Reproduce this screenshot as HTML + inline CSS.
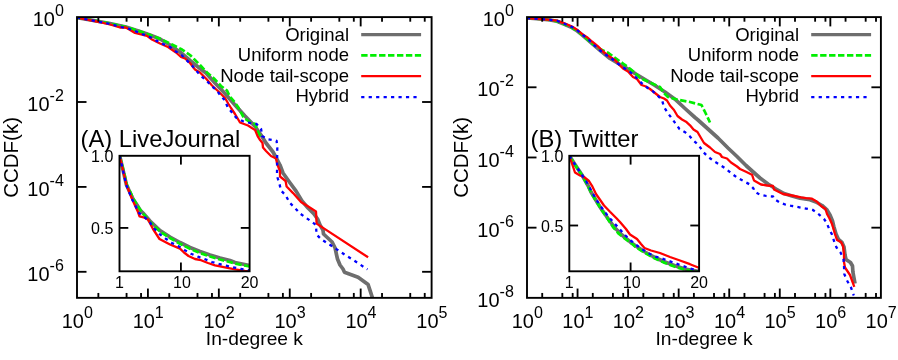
<!DOCTYPE html>
<html><head><meta charset="utf-8"><title>CCDF</title>
<style>
html,body{margin:0;padding:0;background:#fff;}
svg{display:block;font-family:"Liberation Sans", sans-serif;fill:#000;will-change:transform;}
</style></head><body>
<svg width="898" height="360" viewBox="0 0 898 360">
<rect width="898" height="360" fill="#fff"/>
<clipPath id="c0"><rect x="77.0" y="17.1" width="354.6" height="280.75"/></clipPath>
<g clip-path="url(#c0)">
<polyline points="77.0,17.6 99.2,21.5 110.0,23.5 126.0,27.0 140.0,31.5 150.0,35.0 160.0,39.0 170.0,45.0 180.0,52.0 190.0,60.5 200.0,68.5 206.0,73.0 215.0,83.0 225.0,93.5 235.0,105.0 245.0,116.0 255.1,126.5 261.0,135.0 266.0,143.0 273.0,152.0 276.6,158.5 280.0,165.0 283.0,173.0 290.1,183.0 296.1,191.1 302.0,201.0 308.0,208.0 314.0,214.0 317.6,219.0 320.0,225.0 323.0,230.0 323.5,234.0 332.1,242.0 335.1,248.0 336.6,255.1 337.5,259.0 340.0,265.0 343.0,269.0 344.5,272.2 358.1,277.2 368.1,284.6 370.1,290.6 372.5,298.0 373.0,301.0" fill="none" stroke="#6e6e6e" stroke-width="3.7" stroke-linejoin="round"/>
<polyline points="77.0,17.6 99.2,21.5 110.0,23.5 126.0,27.0 140.0,31.4 150.0,34.9 160.0,38.8 172.0,44.5 182.0,49.5 190.0,55.0 195.0,60.0 200.0,65.0 207.0,72.5 214.0,78.5 221.0,86.0 227.0,90.5 229.5,96.0 234.5,102.0 238.0,107.0 244.0,118.0 249.0,121.5 255.1,124.0 258.1,132.1 260.1,136.1 261.5,137.5" fill="none" stroke="#00ee00" stroke-width="2.7" stroke-linejoin="round" stroke-dasharray="6.4,2.54"/>
<polyline points="77.0,17.6 99.2,22.0 110.0,24.5 120.0,27.5 126.0,27.5 135.0,33.0 147.0,35.8 152.0,39.5 160.0,43.5 168.0,47.0 176.0,52.5 181.0,57.0 185.0,58.5 190.0,63.0 195.0,69.5 200.0,72.5 206.0,78.5 212.0,85.5 219.0,92.0 225.0,98.0 228.5,104.0 231.0,108.0 235.0,114.0 240.0,122.5 248.0,125.5 255.1,130.1 257.6,136.1 260.1,140.1 262.5,143.0 263.0,147.5 266.0,151.0 271.0,156.0 276.1,158.5 277.1,164.1 280.0,171.0 280.0,176.5 285.6,181.0 286.6,186.5 293.1,193.1 301.0,202.0 309.0,207.0 316.0,211.5 316.6,223.6 368.1,257.3" fill="none" stroke="#ff0000" stroke-width="2.3" stroke-linejoin="round"/>
<polyline points="77.0,17.6 99.2,21.8 110.0,24.0 121.0,27.0 128.0,28.5 136.0,31.5 142.0,34.0 150.0,37.0 156.0,40.5 163.0,44.0 170.0,47.0 175.0,51.0 181.5,55.0 186.5,60.0 192.0,65.5 196.5,71.0 201.0,76.0 206.5,80.5 211.0,85.5 216.5,90.0 220.5,95.5 225.0,100.5 227.5,107.0 236.0,117.5 242.5,121.0 250.1,123.0 256.6,124.0 261.1,129.0 262.1,136.1 268.0,139.2 276.6,140.8 277.3,148.0 277.1,160.1 277.0,176.0 279.5,184.0 281.0,190.6 285.5,195.0 289.5,202.5 295.0,208.0 300.0,213.5 305.6,217.5 312.0,221.9 316.0,225.0 316.5,234.5 321.0,239.0 327.1,243.0 334.1,247.5 340.1,251.6 346.1,255.6 352.6,259.6 367.5,269.4" fill="none" stroke="#0000ff" stroke-width="2.3" stroke-linejoin="round" stroke-dasharray="3.2,4.26"/>
</g>
<rect x="77.0" y="17.1" width="354.6" height="280.75" fill="none" stroke="#000" stroke-width="1.9"/>
<line x1="98.35" y1="297.85" x2="98.35" y2="292.95" stroke="#000" stroke-width="1.85"/>
<line x1="98.35" y1="17.10" x2="98.35" y2="21.70" stroke="#000" stroke-width="1.85"/>
<line x1="126.57" y1="297.85" x2="126.57" y2="292.95" stroke="#000" stroke-width="1.85"/>
<line x1="126.57" y1="17.10" x2="126.57" y2="21.70" stroke="#000" stroke-width="1.85"/>
<line x1="141.05" y1="297.85" x2="141.05" y2="292.95" stroke="#000" stroke-width="1.85"/>
<line x1="141.05" y1="17.10" x2="141.05" y2="21.70" stroke="#000" stroke-width="1.85"/>
<text transform="translate(77.30,327.50) scale(0.975,1)" text-anchor="middle" font-size="20.5">10<tspan dy="-10" font-size="16.5">0</tspan></text>
<line x1="147.92" y1="297.85" x2="147.92" y2="288.55" stroke="#000" stroke-width="1.85"/>
<line x1="147.92" y1="17.10" x2="147.92" y2="26.40" stroke="#000" stroke-width="1.85"/>
<line x1="169.27" y1="297.85" x2="169.27" y2="292.95" stroke="#000" stroke-width="1.85"/>
<line x1="169.27" y1="17.10" x2="169.27" y2="21.70" stroke="#000" stroke-width="1.85"/>
<line x1="197.49" y1="297.85" x2="197.49" y2="292.95" stroke="#000" stroke-width="1.85"/>
<line x1="197.49" y1="17.10" x2="197.49" y2="21.70" stroke="#000" stroke-width="1.85"/>
<line x1="211.97" y1="297.85" x2="211.97" y2="292.95" stroke="#000" stroke-width="1.85"/>
<line x1="211.97" y1="17.10" x2="211.97" y2="21.70" stroke="#000" stroke-width="1.85"/>
<text transform="translate(148.22,327.50) scale(0.975,1)" text-anchor="middle" font-size="20.5">10<tspan dy="-10" font-size="16.5">1</tspan></text>
<line x1="218.84" y1="297.85" x2="218.84" y2="288.55" stroke="#000" stroke-width="1.85"/>
<line x1="218.84" y1="17.10" x2="218.84" y2="26.40" stroke="#000" stroke-width="1.85"/>
<line x1="240.19" y1="297.85" x2="240.19" y2="292.95" stroke="#000" stroke-width="1.85"/>
<line x1="240.19" y1="17.10" x2="240.19" y2="21.70" stroke="#000" stroke-width="1.85"/>
<line x1="268.41" y1="297.85" x2="268.41" y2="292.95" stroke="#000" stroke-width="1.85"/>
<line x1="268.41" y1="17.10" x2="268.41" y2="21.70" stroke="#000" stroke-width="1.85"/>
<line x1="282.89" y1="297.85" x2="282.89" y2="292.95" stroke="#000" stroke-width="1.85"/>
<line x1="282.89" y1="17.10" x2="282.89" y2="21.70" stroke="#000" stroke-width="1.85"/>
<text transform="translate(219.14,327.50) scale(0.975,1)" text-anchor="middle" font-size="20.5">10<tspan dy="-10" font-size="16.5">2</tspan></text>
<line x1="289.76" y1="297.85" x2="289.76" y2="288.55" stroke="#000" stroke-width="1.85"/>
<line x1="289.76" y1="17.10" x2="289.76" y2="26.40" stroke="#000" stroke-width="1.85"/>
<line x1="311.11" y1="297.85" x2="311.11" y2="292.95" stroke="#000" stroke-width="1.85"/>
<line x1="311.11" y1="17.10" x2="311.11" y2="21.70" stroke="#000" stroke-width="1.85"/>
<line x1="339.33" y1="297.85" x2="339.33" y2="292.95" stroke="#000" stroke-width="1.85"/>
<line x1="339.33" y1="17.10" x2="339.33" y2="21.70" stroke="#000" stroke-width="1.85"/>
<line x1="353.81" y1="297.85" x2="353.81" y2="292.95" stroke="#000" stroke-width="1.85"/>
<line x1="353.81" y1="17.10" x2="353.81" y2="21.70" stroke="#000" stroke-width="1.85"/>
<text transform="translate(290.06,327.50) scale(0.975,1)" text-anchor="middle" font-size="20.5">10<tspan dy="-10" font-size="16.5">3</tspan></text>
<line x1="360.68" y1="297.85" x2="360.68" y2="288.55" stroke="#000" stroke-width="1.85"/>
<line x1="360.68" y1="17.10" x2="360.68" y2="26.40" stroke="#000" stroke-width="1.85"/>
<line x1="382.03" y1="297.85" x2="382.03" y2="292.95" stroke="#000" stroke-width="1.85"/>
<line x1="382.03" y1="17.10" x2="382.03" y2="21.70" stroke="#000" stroke-width="1.85"/>
<line x1="410.25" y1="297.85" x2="410.25" y2="292.95" stroke="#000" stroke-width="1.85"/>
<line x1="410.25" y1="17.10" x2="410.25" y2="21.70" stroke="#000" stroke-width="1.85"/>
<line x1="424.73" y1="297.85" x2="424.73" y2="292.95" stroke="#000" stroke-width="1.85"/>
<line x1="424.73" y1="17.10" x2="424.73" y2="21.70" stroke="#000" stroke-width="1.85"/>
<text transform="translate(360.98,327.50) scale(0.975,1)" text-anchor="middle" font-size="20.5">10<tspan dy="-10" font-size="16.5">4</tspan></text>
<text transform="translate(431.90,327.50) scale(0.975,1)" text-anchor="middle" font-size="20.5">10<tspan dy="-10" font-size="16.5">5</tspan></text>
<text transform="translate(63.90,26.30) scale(0.975,1)" text-anchor="end" font-size="20.5">10<tspan dy="-10" font-size="16.5">0</tspan></text>
<line x1="77.00" y1="102.00" x2="86.50" y2="102.00" stroke="#000" stroke-width="1.85"/>
<line x1="431.60" y1="102.00" x2="422.10" y2="102.00" stroke="#000" stroke-width="1.85"/>
<text transform="translate(63.90,111.20) scale(0.975,1)" text-anchor="end" font-size="20.5">10<tspan dy="-10" font-size="16.5">-2</tspan></text>
<line x1="77.00" y1="186.90" x2="86.50" y2="186.90" stroke="#000" stroke-width="1.85"/>
<line x1="431.60" y1="186.90" x2="422.10" y2="186.90" stroke="#000" stroke-width="1.85"/>
<text transform="translate(63.90,196.10) scale(0.975,1)" text-anchor="end" font-size="20.5">10<tspan dy="-10" font-size="16.5">-4</tspan></text>
<line x1="77.00" y1="271.80" x2="86.50" y2="271.80" stroke="#000" stroke-width="1.85"/>
<line x1="431.60" y1="271.80" x2="422.10" y2="271.80" stroke="#000" stroke-width="1.85"/>
<text transform="translate(63.90,281.00) scale(0.975,1)" text-anchor="end" font-size="20.5">10<tspan dy="-10" font-size="16.5">-6</tspan></text>
<text transform="translate(254.40,345.40) scale(1.038,1)" text-anchor="middle" font-size="18.5">In-degree k</text>
<text transform="translate(17.5,157.4) rotate(-90)" text-anchor="middle" font-size="20.5">CCDF(k)</text>
<text transform="translate(349.00,40.70) scale(1.0,1)" text-anchor="end" font-size="18.55">Original</text>
<text transform="translate(349.00,61.30) scale(1.0,1)" text-anchor="end" font-size="18.55">Uniform node</text>
<text transform="translate(349.00,81.80) scale(1.0,1)" text-anchor="end" font-size="18.55">Node tail-scope</text>
<text transform="translate(349.00,102.40) scale(1.0,1)" text-anchor="end" font-size="18.55">Hybrid</text>
<polyline points="361.2,34.6 421.1,34.6" fill="none" stroke="#6e6e6e" stroke-width="3.1" stroke-linejoin="round"/>
<polyline points="361.2,55.3 421.1,55.3" fill="none" stroke="#00ee00" stroke-width="2.7" stroke-linejoin="round" stroke-dasharray="6.4,2.54"/>
<polyline points="361.2,76.2 421.1,76.2" fill="none" stroke="#ff0000" stroke-width="2.3" stroke-linejoin="round"/>
<polyline points="361.2,97.1 417.6,97.1" fill="none" stroke="#0000ff" stroke-width="2.3" stroke-linejoin="round" stroke-dasharray="3.2,4.26"/>
<text transform="translate(80.60,146.50) scale(1.0,1)" text-anchor="start" font-size="23.75">(A) LiveJournal</text>
<rect x="119.5" y="155.8" width="130.1" height="115.5" fill="#fff" stroke="none"/>
<clipPath id="ci0"><rect x="119.5" y="155.8" width="130.1" height="115.5"/></clipPath>
<g clip-path="url(#ci0)">
<polyline points="119.7,156.0 126.5,185.0 133.0,199.0 137.0,205.0 140.0,210.0 143.0,213.0 150.0,221.0 160.0,230.5 170.0,237.0 180.0,242.5 190.0,247.5 200.0,251.5 210.0,255.0 220.0,258.0 230.0,260.5 235.0,262.5 249.7,265.5" fill="none" stroke="#6e6e6e" stroke-width="3.7" stroke-linejoin="round"/>
<polyline points="119.9,156.0 127.0,185.0 134.0,200.0 139.0,208.0 143.0,213.5 150.0,222.0 160.0,231.5 170.0,238.0 180.0,243.8 190.0,248.8 200.0,253.0 210.0,256.5 220.0,259.5 225.0,260.8 235.0,263.5 249.7,266.5" fill="none" stroke="#00ee00" stroke-width="2.7" stroke-linejoin="round" stroke-dasharray="6.4,2.54"/>
<polyline points="119.7,156.0 126.5,185.0 132.5,200.0 138.0,212.0 139.5,216.3 143.5,217.3 148.0,219.5 153.0,229.0 159.5,239.0 170.0,244.5 180.0,248.6 184.0,252.5 188.5,256.0 195.0,259.0 201.0,260.2 208.0,263.0 215.0,265.3 225.0,267.3 235.0,269.3 245.0,270.9 249.7,271.4" fill="none" stroke="#ff0000" stroke-width="2.3" stroke-linejoin="round"/>
<polyline points="119.7,156.0 126.3,185.0 132.0,199.0 136.0,207.0 139.0,213.0 145.0,217.5 150.0,222.5 154.5,228.7 159.5,234.0 165.5,238.5 172.0,243.0 178.5,246.2 184.5,250.0 191.0,253.7 198.0,256.7 205.0,259.2 212.0,262.0 219.0,263.9 226.0,265.6 233.0,267.3 241.0,269.0 249.7,270.5" fill="none" stroke="#0000ff" stroke-width="2.3" stroke-linejoin="round" stroke-dasharray="3.2,4.26"/>
</g>
<rect x="119.5" y="155.8" width="130.1" height="115.5" fill="none" stroke="#000" stroke-width="1.9"/>
<line x1="180.90" y1="155.80" x2="180.90" y2="164.60" stroke="#000" stroke-width="1.85"/>
<line x1="180.90" y1="271.30" x2="180.90" y2="262.50" stroke="#000" stroke-width="1.85"/>
<line x1="119.50" y1="227.90" x2="128.30" y2="227.90" stroke="#000" stroke-width="1.85"/>
<line x1="249.60" y1="227.90" x2="240.80" y2="227.90" stroke="#000" stroke-width="1.85"/>
<text transform="translate(113.30,161.70) scale(1.0,1)" text-anchor="end" font-size="16">1.0</text>
<text transform="translate(113.30,233.90) scale(1.0,1)" text-anchor="end" font-size="16">0.5</text>
<text transform="translate(119.50,287.60) scale(1.0,1)" text-anchor="middle" font-size="16">1</text>
<text transform="translate(182.00,287.60) scale(1.0,1)" text-anchor="middle" font-size="16">10</text>
<text transform="translate(249.60,287.60) scale(1.0,1)" text-anchor="middle" font-size="16">20</text>
<clipPath id="c450"><rect x="527.0" y="17.1" width="353.9" height="280.75"/></clipPath>
<g clip-path="url(#c450)">
<polyline points="527.0,18.0 540.0,19.0 550.0,20.0 557.0,21.3 565.0,24.5 572.0,27.6 577.0,30.8 582.0,34.8 587.0,39.1 593.0,44.4 600.0,50.3 610.0,58.5 620.0,64.5 630.0,70.0 635.0,73.5 645.0,79.5 655.0,85.5 665.0,92.0 675.0,99.2 685.0,108.5 695.0,117.5 698.0,120.0 708.0,129.0 718.0,138.0 728.0,148.0 737.0,156.5 746.0,165.5 756.0,174.5 760.0,178.0 768.0,184.0 776.0,189.0 784.0,193.5 792.0,196.0 800.0,198.2 810.0,199.7 816.0,202.0 822.0,205.5 827.0,210.0 830.0,215.0 832.5,221.0 833.8,226.5 836.0,234.0 838.5,239.5 842.0,242.5 844.0,247.0 845.0,255.0 846.0,259.5 850.5,262.5 852.5,266.0 852.9,272.0 855.0,283.5" fill="none" stroke="#6e6e6e" stroke-width="3.7" stroke-linejoin="round"/>
<polyline points="527.0,18.0 540.0,19.0 550.0,20.0 557.0,21.3 565.0,24.5 572.0,27.6 577.0,30.8 582.0,34.8 587.0,39.1 591.0,42.8 601.0,49.5 608.5,53.0 616.0,58.5 623.0,63.5 628.5,67.5 634.0,72.0 640.0,78.0 650.0,82.5 660.0,87.0 664.0,93.0 668.0,97.0 677.0,99.5 690.0,102.0 701.5,105.0 706.0,114.0 710.0,122.5" fill="none" stroke="#00ee00" stroke-width="2.7" stroke-linejoin="round" stroke-dasharray="6.4,2.54"/>
<polyline points="527.0,18.0 540.0,19.0 550.0,19.8 557.0,20.7 565.0,23.6 572.0,26.5 577.0,29.7 582.0,34.0 587.0,37.2 592.0,41.5 598.0,46.3 603.0,51.5 608.0,55.5 615.0,60.0 620.0,65.5 623.0,68.5 628.0,71.5 633.0,77.0 637.0,79.0 641.5,85.0 646.0,86.5 650.0,89.0 655.0,93.0 660.0,97.0 664.0,98.5 667.0,100.5 670.0,105.5 674.0,110.0 677.5,116.0 682.0,119.5 686.0,121.7 690.0,125.3 693.5,129.5 697.5,132.0 701.0,138.0 704.0,143.0 710.0,147.5 715.0,152.0 720.0,154.0 722.0,157.0 727.0,158.5 731.0,162.5 737.0,166.5 740.0,169.0 746.0,171.8 752.0,174.7 754.0,180.5 761.0,184.5 767.0,185.5 773.0,186.0 774.0,189.5 783.0,194.0 792.0,195.5 801.0,197.4 806.0,198.2 812.0,198.7 817.0,201.7 821.0,206.0 825.5,209.0 827.0,214.0 829.5,218.5 832.0,224.0 835.0,234.0 837.0,240.0 841.0,242.0 843.0,246.0 844.0,254.0 844.0,262.0 845.0,267.5 850.0,275.0 854.3,286.8" fill="none" stroke="#ff0000" stroke-width="2.3" stroke-linejoin="round"/>
<polyline points="527.0,18.0 540.0,19.0 550.0,19.8 557.0,20.8 565.0,24.0 572.0,27.0 577.0,30.0 582.0,34.5 587.0,38.0 594.0,45.0 599.5,50.0 605.5,54.5 611.5,58.5 617.0,63.0 622.5,67.0 629.0,71.0 634.0,75.5 637.5,79.0 642.0,83.5 647.0,87.5 652.5,91.0 657.0,95.0 662.0,100.0 664.0,107.0 667.5,112.5 671.5,118.0 675.5,123.5 679.5,129.0 685.5,132.5 689.5,136.0 694.0,141.0 699.0,145.5 703.0,151.8 707.5,156.3 713.5,161.0 719.5,164.5 725.5,168.5 731.0,173.0 737.0,177.5 743.0,180.8 749.5,184.3 753.5,188.5 754.5,191.5 759.5,194.5 766.5,196.0 773.0,196.5 774.0,199.0 779.0,202.0 785.0,204.5 792.0,206.0 799.5,207.3 806.0,208.6 813.0,210.0 819.0,214.5 824.0,219.0 826.5,222.5 829.0,228.5 832.0,234.5 834.0,241.0 836.5,247.5 840.5,252.5 843.5,258.8 844.0,266.0 844.3,274.0 847.0,280.5 851.0,287.5 853.8,295.5" fill="none" stroke="#0000ff" stroke-width="2.3" stroke-linejoin="round" stroke-dasharray="3.2,4.26"/>
</g>
<rect x="527.0" y="17.1" width="353.9" height="280.75" fill="none" stroke="#000" stroke-width="1.9"/>
<line x1="542.22" y1="297.85" x2="542.22" y2="292.95" stroke="#000" stroke-width="1.85"/>
<line x1="542.22" y1="17.10" x2="542.22" y2="21.70" stroke="#000" stroke-width="1.85"/>
<line x1="562.34" y1="297.85" x2="562.34" y2="292.95" stroke="#000" stroke-width="1.85"/>
<line x1="562.34" y1="17.10" x2="562.34" y2="21.70" stroke="#000" stroke-width="1.85"/>
<line x1="572.66" y1="297.85" x2="572.66" y2="292.95" stroke="#000" stroke-width="1.85"/>
<line x1="572.66" y1="17.10" x2="572.66" y2="21.70" stroke="#000" stroke-width="1.85"/>
<text transform="translate(527.30,327.50) scale(0.975,1)" text-anchor="middle" font-size="20.5">10<tspan dy="-10" font-size="16.5">0</tspan></text>
<line x1="577.56" y1="297.85" x2="577.56" y2="288.55" stroke="#000" stroke-width="1.85"/>
<line x1="577.56" y1="17.10" x2="577.56" y2="26.40" stroke="#000" stroke-width="1.85"/>
<line x1="592.78" y1="297.85" x2="592.78" y2="292.95" stroke="#000" stroke-width="1.85"/>
<line x1="592.78" y1="17.10" x2="592.78" y2="21.70" stroke="#000" stroke-width="1.85"/>
<line x1="612.90" y1="297.85" x2="612.90" y2="292.95" stroke="#000" stroke-width="1.85"/>
<line x1="612.90" y1="17.10" x2="612.90" y2="21.70" stroke="#000" stroke-width="1.85"/>
<line x1="623.21" y1="297.85" x2="623.21" y2="292.95" stroke="#000" stroke-width="1.85"/>
<line x1="623.21" y1="17.10" x2="623.21" y2="21.70" stroke="#000" stroke-width="1.85"/>
<text transform="translate(577.86,327.50) scale(0.975,1)" text-anchor="middle" font-size="20.5">10<tspan dy="-10" font-size="16.5">1</tspan></text>
<line x1="628.11" y1="297.85" x2="628.11" y2="288.55" stroke="#000" stroke-width="1.85"/>
<line x1="628.11" y1="17.10" x2="628.11" y2="26.40" stroke="#000" stroke-width="1.85"/>
<line x1="643.33" y1="297.85" x2="643.33" y2="292.95" stroke="#000" stroke-width="1.85"/>
<line x1="643.33" y1="17.10" x2="643.33" y2="21.70" stroke="#000" stroke-width="1.85"/>
<line x1="663.45" y1="297.85" x2="663.45" y2="292.95" stroke="#000" stroke-width="1.85"/>
<line x1="663.45" y1="17.10" x2="663.45" y2="21.70" stroke="#000" stroke-width="1.85"/>
<line x1="673.77" y1="297.85" x2="673.77" y2="292.95" stroke="#000" stroke-width="1.85"/>
<line x1="673.77" y1="17.10" x2="673.77" y2="21.70" stroke="#000" stroke-width="1.85"/>
<text transform="translate(628.41,327.50) scale(0.975,1)" text-anchor="middle" font-size="20.5">10<tspan dy="-10" font-size="16.5">2</tspan></text>
<line x1="678.67" y1="297.85" x2="678.67" y2="288.55" stroke="#000" stroke-width="1.85"/>
<line x1="678.67" y1="17.10" x2="678.67" y2="26.40" stroke="#000" stroke-width="1.85"/>
<line x1="693.89" y1="297.85" x2="693.89" y2="292.95" stroke="#000" stroke-width="1.85"/>
<line x1="693.89" y1="17.10" x2="693.89" y2="21.70" stroke="#000" stroke-width="1.85"/>
<line x1="714.01" y1="297.85" x2="714.01" y2="292.95" stroke="#000" stroke-width="1.85"/>
<line x1="714.01" y1="17.10" x2="714.01" y2="21.70" stroke="#000" stroke-width="1.85"/>
<line x1="724.33" y1="297.85" x2="724.33" y2="292.95" stroke="#000" stroke-width="1.85"/>
<line x1="724.33" y1="17.10" x2="724.33" y2="21.70" stroke="#000" stroke-width="1.85"/>
<text transform="translate(678.97,327.50) scale(0.975,1)" text-anchor="middle" font-size="20.5">10<tspan dy="-10" font-size="16.5">3</tspan></text>
<line x1="729.23" y1="297.85" x2="729.23" y2="288.55" stroke="#000" stroke-width="1.85"/>
<line x1="729.23" y1="17.10" x2="729.23" y2="26.40" stroke="#000" stroke-width="1.85"/>
<line x1="744.45" y1="297.85" x2="744.45" y2="292.95" stroke="#000" stroke-width="1.85"/>
<line x1="744.45" y1="17.10" x2="744.45" y2="21.70" stroke="#000" stroke-width="1.85"/>
<line x1="764.57" y1="297.85" x2="764.57" y2="292.95" stroke="#000" stroke-width="1.85"/>
<line x1="764.57" y1="17.10" x2="764.57" y2="21.70" stroke="#000" stroke-width="1.85"/>
<line x1="774.89" y1="297.85" x2="774.89" y2="292.95" stroke="#000" stroke-width="1.85"/>
<line x1="774.89" y1="17.10" x2="774.89" y2="21.70" stroke="#000" stroke-width="1.85"/>
<text transform="translate(729.53,327.50) scale(0.975,1)" text-anchor="middle" font-size="20.5">10<tspan dy="-10" font-size="16.5">4</tspan></text>
<line x1="779.79" y1="297.85" x2="779.79" y2="288.55" stroke="#000" stroke-width="1.85"/>
<line x1="779.79" y1="17.10" x2="779.79" y2="26.40" stroke="#000" stroke-width="1.85"/>
<line x1="795.00" y1="297.85" x2="795.00" y2="292.95" stroke="#000" stroke-width="1.85"/>
<line x1="795.00" y1="17.10" x2="795.00" y2="21.70" stroke="#000" stroke-width="1.85"/>
<line x1="815.12" y1="297.85" x2="815.12" y2="292.95" stroke="#000" stroke-width="1.85"/>
<line x1="815.12" y1="17.10" x2="815.12" y2="21.70" stroke="#000" stroke-width="1.85"/>
<line x1="825.44" y1="297.85" x2="825.44" y2="292.95" stroke="#000" stroke-width="1.85"/>
<line x1="825.44" y1="17.10" x2="825.44" y2="21.70" stroke="#000" stroke-width="1.85"/>
<text transform="translate(780.09,327.50) scale(0.975,1)" text-anchor="middle" font-size="20.5">10<tspan dy="-10" font-size="16.5">5</tspan></text>
<line x1="830.34" y1="297.85" x2="830.34" y2="288.55" stroke="#000" stroke-width="1.85"/>
<line x1="830.34" y1="17.10" x2="830.34" y2="26.40" stroke="#000" stroke-width="1.85"/>
<line x1="845.56" y1="297.85" x2="845.56" y2="292.95" stroke="#000" stroke-width="1.85"/>
<line x1="845.56" y1="17.10" x2="845.56" y2="21.70" stroke="#000" stroke-width="1.85"/>
<line x1="865.68" y1="297.85" x2="865.68" y2="292.95" stroke="#000" stroke-width="1.85"/>
<line x1="865.68" y1="17.10" x2="865.68" y2="21.70" stroke="#000" stroke-width="1.85"/>
<line x1="876.00" y1="297.85" x2="876.00" y2="292.95" stroke="#000" stroke-width="1.85"/>
<line x1="876.00" y1="17.10" x2="876.00" y2="21.70" stroke="#000" stroke-width="1.85"/>
<text transform="translate(830.64,327.50) scale(0.975,1)" text-anchor="middle" font-size="20.5">10<tspan dy="-10" font-size="16.5">6</tspan></text>
<text transform="translate(881.20,327.50) scale(0.975,1)" text-anchor="middle" font-size="20.5">10<tspan dy="-10" font-size="16.5">7</tspan></text>
<text transform="translate(513.90,26.30) scale(0.975,1)" text-anchor="end" font-size="20.5">10<tspan dy="-10" font-size="16.5">0</tspan></text>
<line x1="527.00" y1="87.29" x2="536.50" y2="87.29" stroke="#000" stroke-width="1.85"/>
<line x1="880.90" y1="87.29" x2="871.40" y2="87.29" stroke="#000" stroke-width="1.85"/>
<text transform="translate(513.90,96.49) scale(0.975,1)" text-anchor="end" font-size="20.5">10<tspan dy="-10" font-size="16.5">-2</tspan></text>
<line x1="527.00" y1="157.48" x2="536.50" y2="157.48" stroke="#000" stroke-width="1.85"/>
<line x1="880.90" y1="157.48" x2="871.40" y2="157.48" stroke="#000" stroke-width="1.85"/>
<text transform="translate(513.90,166.68) scale(0.975,1)" text-anchor="end" font-size="20.5">10<tspan dy="-10" font-size="16.5">-4</tspan></text>
<line x1="527.00" y1="227.67" x2="536.50" y2="227.67" stroke="#000" stroke-width="1.85"/>
<line x1="880.90" y1="227.67" x2="871.40" y2="227.67" stroke="#000" stroke-width="1.85"/>
<text transform="translate(513.90,236.87) scale(0.975,1)" text-anchor="end" font-size="20.5">10<tspan dy="-10" font-size="16.5">-6</tspan></text>
<text transform="translate(513.90,307.06) scale(0.975,1)" text-anchor="end" font-size="20.5">10<tspan dy="-10" font-size="16.5">-8</tspan></text>
<text transform="translate(704.05,345.40) scale(1.038,1)" text-anchor="middle" font-size="18.5">In-degree k</text>
<text transform="translate(467.5,157.4) rotate(-90)" text-anchor="middle" font-size="20.5">CCDF(k)</text>
<text transform="translate(799.00,40.70) scale(1.0,1)" text-anchor="end" font-size="18.55">Original</text>
<text transform="translate(799.00,61.30) scale(1.0,1)" text-anchor="end" font-size="18.55">Uniform node</text>
<text transform="translate(799.00,81.80) scale(1.0,1)" text-anchor="end" font-size="18.55">Node tail-scope</text>
<text transform="translate(799.00,102.40) scale(1.0,1)" text-anchor="end" font-size="18.55">Hybrid</text>
<polyline points="811.2,34.6 871.1,34.6" fill="none" stroke="#6e6e6e" stroke-width="3.1" stroke-linejoin="round"/>
<polyline points="811.2,55.3 871.1,55.3" fill="none" stroke="#00ee00" stroke-width="2.7" stroke-linejoin="round" stroke-dasharray="6.4,2.54"/>
<polyline points="811.2,76.2 871.1,76.2" fill="none" stroke="#ff0000" stroke-width="2.3" stroke-linejoin="round"/>
<polyline points="811.2,97.1 867.6,97.1" fill="none" stroke="#0000ff" stroke-width="2.3" stroke-linejoin="round" stroke-dasharray="3.2,4.26"/>
<text transform="translate(530.60,146.50) scale(1.0,1)" text-anchor="start" font-size="23.75">(B) Twitter</text>
<rect x="569.3" y="155.8" width="129.80000000000007" height="115.5" fill="#fff" stroke="none"/>
<clipPath id="ci450"><rect x="569.3" y="155.8" width="129.80000000000007" height="115.5"/></clipPath>
<g clip-path="url(#ci450)">
<polyline points="569.5,156.0 576.0,166.0 582.0,175.0 588.0,185.5 591.0,192.0 597.0,202.0 602.0,210.0 607.0,217.0 609.0,220.0 615.0,228.0 622.0,235.0 630.0,241.7 635.0,245.5 645.0,252.0 655.0,257.5 665.0,262.0 675.0,265.8 685.0,269.0 699.5,271.6" fill="none" stroke="#6e6e6e" stroke-width="3.7" stroke-linejoin="round"/>
<polyline points="569.5,156.0 576.0,166.3 582.0,175.3 588.0,186.0 591.0,192.5 597.0,202.5 602.0,210.5 606.5,217.0 613.0,227.0 619.0,234.0 626.0,239.5 633.0,244.5 635.0,246.5 645.0,253.0 655.0,258.5 665.0,263.0 675.0,266.8 685.0,269.8 699.5,272.2" fill="none" stroke="#00ee00" stroke-width="2.7" stroke-linejoin="round" stroke-dasharray="6.4,2.54"/>
<polyline points="569.5,156.0 575.0,172.5 580.0,175.5 584.0,177.0 589.0,181.0 592.0,185.8 596.0,194.0 604.0,205.5 610.0,211.8 616.0,217.8 620.0,222.0 626.0,229.0 630.0,234.5 637.0,239.0 641.0,244.0 644.5,248.0 651.0,250.5 660.0,253.0 670.0,257.0 680.0,260.5 690.0,264.2 699.5,268.0" fill="none" stroke="#ff0000" stroke-width="2.3" stroke-linejoin="round"/>
<polyline points="569.5,156.0 576.0,166.0 582.0,175.0 586.5,182.0 593.0,194.0 599.0,204.0 606.0,213.5 610.5,219.0 615.5,224.5 620.5,230.0 625.5,235.5 630.5,240.3 637.0,245.5 642.5,249.5 649.0,253.5 655.0,256.5 662.0,258.5 669.0,261.0 676.0,263.5 683.0,266.0 690.0,268.5 699.5,270.8" fill="none" stroke="#0000ff" stroke-width="2.3" stroke-linejoin="round" stroke-dasharray="3.2,4.26"/>
</g>
<rect x="569.3" y="155.8" width="129.80000000000007" height="115.5" fill="none" stroke="#000" stroke-width="1.9"/>
<line x1="630.60" y1="155.80" x2="630.60" y2="164.60" stroke="#000" stroke-width="1.85"/>
<line x1="630.60" y1="271.30" x2="630.60" y2="262.50" stroke="#000" stroke-width="1.85"/>
<line x1="569.30" y1="225.50" x2="578.10" y2="225.50" stroke="#000" stroke-width="1.85"/>
<line x1="699.10" y1="225.50" x2="690.30" y2="225.50" stroke="#000" stroke-width="1.85"/>
<text transform="translate(563.30,161.70) scale(1.0,1)" text-anchor="end" font-size="16">1.0</text>
<text transform="translate(563.30,231.50) scale(1.0,1)" text-anchor="end" font-size="16">0.5</text>
<text transform="translate(569.30,287.60) scale(1.0,1)" text-anchor="middle" font-size="16">1</text>
<text transform="translate(631.70,287.60) scale(1.0,1)" text-anchor="middle" font-size="16">10</text>
<text transform="translate(699.10,287.60) scale(1.0,1)" text-anchor="middle" font-size="16">20</text>
</svg>
</body></html>
